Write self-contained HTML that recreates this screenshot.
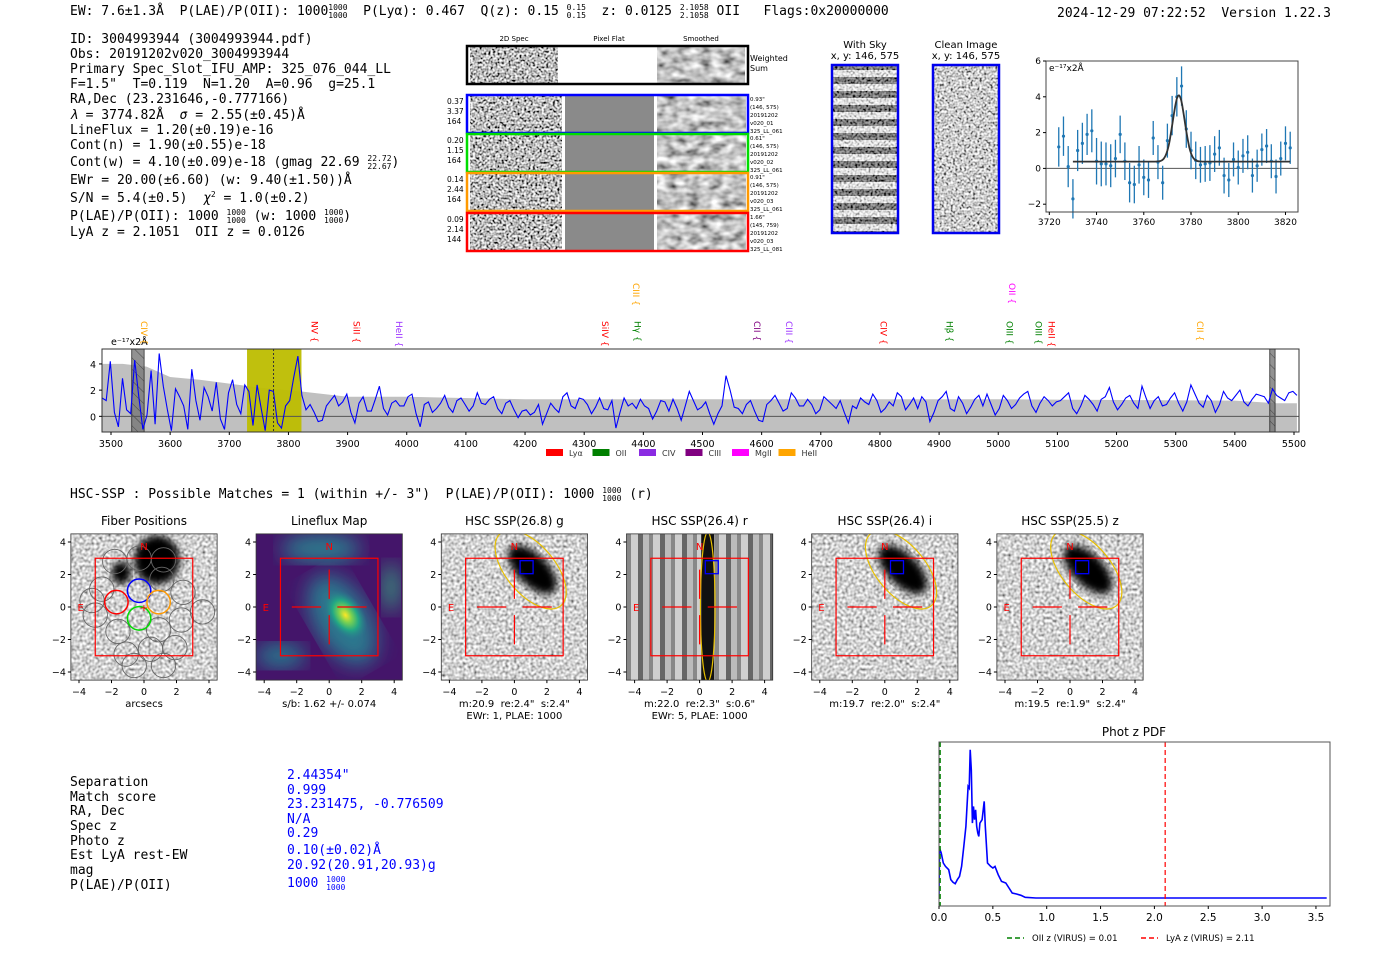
<!DOCTYPE html>
<html><head><meta charset="utf-8">
<style>
html,body{margin:0;padding:0;background:#fff;}
svg{display:block;font-family:"DejaVu Sans","Liberation Sans",sans-serif;}
svg text{white-space:pre;}
.mono{font-family:"DejaVu Sans Mono","Liberation Mono",monospace;}
</style></head>
<body>
<svg id="fig" width="1400" height="953" viewBox="0 0 1400 953" xmlns="http://www.w3.org/2000/svg" xml:space="preserve">
<defs>
<filter id="noise" x="0" y="0" width="1" height="1"><feTurbulence type="fractalNoise" baseFrequency="0.45" numOctaves="1" seed="4"/><feColorMatrix type="saturate" values="0"/><feComponentTransfer><feFuncR type="linear" slope="3.2" intercept="-1.1"/><feFuncG type="linear" slope="3.2" intercept="-1.1"/><feFuncB type="linear" slope="3.2" intercept="-1.1"/><feFuncA type="table" tableValues="1 1"/></feComponentTransfer></filter>
<filter id="smooth" x="0" y="0" width="1" height="1"><feTurbulence type="fractalNoise" baseFrequency="0.09 0.14" numOctaves="2" seed="9"/><feColorMatrix type="saturate" values="0"/><feComponentTransfer><feFuncR type="linear" slope="1.8" intercept="-0.35"/><feFuncG type="linear" slope="1.8" intercept="-0.35"/><feFuncB type="linear" slope="1.8" intercept="-0.35"/><feFuncA type="table" tableValues="1 1"/></feComponentTransfer></filter>
<filter id="fine" x="0" y="0" width="1" height="1"><feTurbulence type="fractalNoise" baseFrequency="0.35" numOctaves="1" seed="2"/><feColorMatrix type="saturate" values="0"/><feComponentTransfer><feFuncR type="linear" slope="2.0" intercept="-0.35"/><feFuncG type="linear" slope="2.0" intercept="-0.35"/><feFuncB type="linear" slope="2.0" intercept="-0.35"/><feFuncA type="table" tableValues="1 1"/></feComponentTransfer></filter>
<filter id="blur3"><feGaussianBlur stdDeviation="4"/></filter>
<filter id="blur8"><feGaussianBlur stdDeviation="10"/></filter>
<pattern id="sky" width="10" height="14" patternUnits="userSpaceOnUse"><rect width="10" height="7" fill="#fff" opacity="0.55"/><rect y="7" width="10" height="7" fill="#000" opacity="0.35"/></pattern>
<pattern id="hatch" width="8" height="8" patternUnits="userSpaceOnUse" patternTransform="rotate(-45)"><line x1="0" y1="0" x2="0" y2="8" stroke="#333" stroke-width="0.8"/></pattern>
<pattern id="vstripes" width="22" height="10" patternUnits="userSpaceOnUse"><rect width="5" height="10" fill="#666"/><rect x="5" width="6" height="10" fill="#bbb"/><rect x="11" width="4" height="10" fill="#888"/><rect x="15" width="7" height="10" fill="#cfcfcf"/></pattern>
<radialGradient id="vir" cx="0.5" cy="0.5" r="0.5"><stop offset="0" stop-color="#fde725"/><stop offset="0.3" stop-color="#7ad151"/><stop offset="0.6" stop-color="#22a884"/><stop offset="1" stop-color="#2a788e" stop-opacity="0"/></radialGradient>
<clipPath id="specclip"><rect x="102" y="349" width="1197" height="83"/></clipPath>
<clipPath id="pdfclip"><rect x="939" y="742" width="391" height="164"/></clipPath>
</defs>

<!-- header -->
<g class="mono" font-size="13" fill="#000">
<text x="70" y="15">EW: 7.6±1.3Å  P(LAE)/P(OII): 1000<tspan font-size="8" dy="-5">1000</tspan><tspan font-size="8" dx="-19.3" dy="8">1000</tspan><tspan dy="-3">  P(Lyα): 0.467  Q(z): 0.15 </tspan><tspan font-size="8" dy="-5">0.15</tspan><tspan font-size="8" dx="-19.3" dy="8">0.15</tspan><tspan dy="-3">  z: 0.0125 </tspan><tspan font-size="8" dy="-5">2.1058</tspan><tspan font-size="8" dx="-28.9" dy="8">2.1058</tspan><tspan dy="-3"> OII   Flags:0x20000000</tspan></text>
<text x="1057" y="17">2024-12-29 07:22:52  Version 1.22.3</text>
</g>
<g class="mono" font-size="13" fill="#000">
<text x="70" y="43">ID: 3004993944 (3004993944.pdf)</text>
<text x="70" y="58">Obs: 20191202v020_3004993944</text>
<text x="70" y="73">Primary Spec_Slot_IFU_AMP: 325_076_044_LL</text>
<text x="70" y="88">F=1.5"  T=0.119  N=1.20  A=0.96  g=25.1</text>
<text x="70" y="103">RA,Dec (23.231646,-0.777166)</text>
<text x="70" y="119"><tspan font-style="italic">λ</tspan> = 3774.82Å  <tspan font-style="italic">σ</tspan> = 2.55(±0.45)Å</text>
<text x="70" y="134">LineFlux = 1.20(±0.19)e-16</text>
<text x="70" y="149">Cont(n) = 1.90(±0.55)e-18</text>
<text x="70" y="166">Cont(w) = 4.10(±0.09)e-18 (gmag 22.69 <tspan font-size="8" dy="-5">22.72</tspan><tspan font-size="8" dx="-24.1" dy="8">22.67</tspan><tspan dy="-3">)</tspan></text>
<text x="70" y="184">EWr = 20.00(±6.60) (w: 9.40(±1.50))Å</text>
<text x="70" y="202">S/N = 5.4(±0.5)  <tspan font-style="italic">χ</tspan><tspan font-size="8" dy="-5">2</tspan><tspan dy="5"> = 1.0(±0.2)</tspan></text>
<text x="70" y="220">P(LAE)/P(OII): 1000 <tspan font-size="8" dy="-5">1000</tspan><tspan font-size="8" dx="-19.3" dy="8">1000</tspan><tspan dy="-3"> (w: 1000 </tspan><tspan font-size="8" dy="-5">1000</tspan><tspan font-size="8" dx="-19.3" dy="8">1000</tspan><tspan dy="-3">)</tspan></text>
<text x="70" y="236">LyA z = 2.1051  OII z = 0.0126</text>
</g>

<!-- 2D spectra -->
<g font-size="7" fill="#000">
<text x="514" y="41" text-anchor="middle">2D Spec</text>
<text x="609" y="41" text-anchor="middle">Pixel Flat</text>
<text x="701" y="41" text-anchor="middle">Smoothed</text>
<rect x="470" y="47" width="88" height="37" filter="url(#noise)"/>
<rect x="657" y="47" width="88" height="37" filter="url(#smooth)"/>
<rect x="467" y="46" width="281" height="38" fill="none" stroke="#000" stroke-width="2.5"/>
<text x="750" y="61" font-size="8">Weighted</text>
<text x="750" y="71" font-size="8">Sum</text>
<g id="fiberrows"></g>
</g>

<!-- sky images -->
<g font-size="10" fill="#000">
<text x="865" y="48" text-anchor="middle">With Sky</text>
<text x="865" y="59" text-anchor="middle">x, y: 146, 575</text>
<rect x="832" y="65" width="66" height="168" filter="url(#noise)"/>
<rect x="832" y="65" width="66" height="168" fill="url(#sky)"/>
<rect x="832" y="65" width="66" height="168" fill="none" stroke="#0000ee" stroke-width="2.5"/>
<text x="966" y="48" text-anchor="middle">Clean Image</text>
<text x="966" y="59" text-anchor="middle">x, y: 146, 575</text>
<rect x="933" y="65" width="66" height="168" filter="url(#noise)" opacity="0.75"/>
<rect x="933" y="65" width="66" height="168" fill="none" stroke="#0000ee" stroke-width="2.5"/>
</g>

<g id="zoomplot"></g>
<g id="specplot"></g>

<text class="mono" x="70" y="498" font-size="13">HSC-SSP : Possible Matches = 1 (within +/- 3")  P(LAE)/P(OII): 1000 <tspan font-size="8" dy="-5">1000</tspan><tspan font-size="8" dx="-19.3" dy="8">1000</tspan><tspan dy="-3"> (r)</tspan></text>

<g id="cutouts"></g>

<g class="mono" font-size="13">
<g fill="#000">
<text x="70" y="786">Separation</text>
<text x="70" y="801">Match score</text>
<text x="70" y="815">RA, Dec</text>
<text x="70" y="830">Spec z</text>
<text x="70" y="845">Photo z</text>
<text x="70" y="859">Est LyA rest-EW</text>
<text x="70" y="874">mag</text>
<text x="70" y="889">P(LAE)/P(OII)</text>
</g>
<g fill="#0000ff">
<text x="287" y="779">2.44354"</text>
<text x="287" y="794">0.999</text>
<text x="287" y="808">23.231475, -0.776509</text>
<text x="287" y="823">N/A</text>
<text x="287" y="837">0.29</text>
<text x="287" y="854">0.10(±0.02)Å</text>
<text x="287" y="869">20.92(20.91,20.93)g</text>
<text x="287" y="887">1000 <tspan font-size="8" dy="-5">1000</tspan><tspan font-size="8" dx="-19.3" dy="8">1000</tspan></text>
</g>
</g>

<g id="pdfplot"></g>
</svg>

<script>
// ---------- data ----------
const fitWave = [3724,3726,3728,3730,3732,3734,3736,3738,3740,3742,3744,3746,3748,3750,3752,3754,3756,3758,3760,3762,3764,3766,3768,3770,3772,3774,3776,3778,3780,3782,3784,3786,3788,3790,3792,3794,3796,3798,3800,3802,3804,3806,3808,3810,3812,3814,3816,3818,3820,3822];
const fitFlux = [1.2,1.8,0.1,-1.7,1.0,1.4,1.9,2.1,0.4,0.25,0.25,0.15,0.55,1.9,0.4,-0.8,-0.9,0.2,-0.5,-0.65,1.7,0.35,-0.8,1.55,2.95,4.0,4.6,2.2,1.0,0.45,0.2,0.25,0.3,0.8,1.15,-0.4,-0.65,0.5,0.05,0.7,0.9,-0.4,0.15,1.05,1.25,0.4,-0.45,0.55,1.4,1.15];
const fitErr = [1.1,1.1,1.15,1.1,1.15,1.15,1.15,1.2,1.3,1.25,1.2,1.2,1.05,1.05,1.05,1.1,1.05,1.05,1.0,1.0,0.95,0.95,0.95,0.95,1.1,1.1,1.1,1.05,1.05,1.05,1.0,1.0,1.0,1.0,1.0,1.0,0.95,0.95,0.95,0.95,0.95,0.95,0.9,0.9,0.95,0.95,0.95,0.95,0.95,0.9];
const fitParams = {center:3774.82, sigma:2.55, amp:3.7, cont:0.38, start:3730, end:3822};
const fitXTicks = [3720,3740,3760,3780,3800,3820];
const fitYTicks = [-2,0,2,4,6];

const specFlux = [1.4,1.2,4.2,0.3,-0.8,2.9,0.5,0.2,4.3,1.5,-1.0,0.1,3.5,-0.6,4.8,2.3,0.5,-1.1,2.1,1.5,0.8,-1.0,3.6,1.2,-0.3,2.2,1.5,0.4,2.6,-0.2,-1.0,1.8,2.8,0.9,0.2,2.4,1.9,-0.7,
2.4,0.6,-1.1,2.0,1.9,-0.5,-0.9,0.8,1.2,3.0,4.6,1.6,0.5,0.9,0.3,-0.4,-0.3,0.8,1.2,1.6,0.8,1.1,1.7,0.3,-0.5,1.0,1.5,0.4,0.4,1.3,2.3,0.6,0.1,1.0,1.2,0.8,0.8,1.5,1.7,0.2,-0.8,0.9,1.1,0.3,0.6,1.0,1.6,0.7,0.3,1.2,1.4,0.9,0.4,0.8,1.8,1.0,0.9,1.3,1.5,0.6,0.2,1.0,1.2,0.5,-0.1,0.4,0.5,0.1,0.3,0.9,-0.6,0.2,1.0,0.6,0.3,1.5,1.8,0.8,0.6,1.4,1.3,0.9,0.2,0.7,1.4,0.6,0.5,1.2,-0.9,0.3,1.4,0.8,1.0,0.6,1.3,0.8,0.6,-0.2,0.4,1.2,1.1,0.4,1.3,0.6,-0.3,0.8,1.9,1.2,0.5,0.7,1.1,0.2,-0.6,0.2,0.8,3.1,2.0,0.7,0.6,0.2,0.9,1.2,0.4,-0.3,-0.4,0.9,1.2,1.6,1.0,0.4,0.6,1.8,1.4,0.8,0.8,1.3,0.9,0.2,0.5,1.5,1.2,0.9,0.6,1.2,0.3,-0.5,0.8,0.6,1.4,1.1,0.9,1.7,1.2,0.3,0.6,1.1,0.8,1.8,1.5,0.5,0.9,1.4,0.6,1.5,1.1,-0.4,0.3,1.2,1.5,1.9,0.6,0.4,1.5,1.0,0.2,0.7,1.3,1.6,0.8,1.7,0.9,0.1,0.6,1.6,1.2,0.6,0.9,1.4,1.7,1.9,0.8,0.3,1.0,1.5,1.2,0.8,1.1,1.2,1.5,1.8,0.6,0.2,0.8,1.6,1.3,0.9,0.4,1.3,1.5,2.2,1.1,0.5,0.9,1.4,1.6,1.0,0.6,2.3,1.4,0.6,1.2,1.5,0.8,0.9,1.4,1.8,1.0,0.4,1.1,2.4,1.7,1.0,0.7,1.6,1.2,0.3,0.9,1.9,1.4,1.2,1.6,2.0,1.1,0.8,1.3,1.7,1.6,1.5,1.0,2.1,1.6,1.4,1.2,1.8,1.9,1.6];
const specRange = [3485, 5505];
const errWave = [3485,3520,3560,3600,3650,3700,3750,3820,3900,4000,4200,4500,4700,5000,5400,5470,5505];
const errTop  = [4.0,4.0,3.8,3.0,2.8,2.5,2.2,1.9,1.5,1.5,1.3,1.3,1.3,1.3,1.2,1.0,1.0];
const specXTicks = [3500,3600,3700,3800,3900,4000,4100,4200,4300,4400,4500,4600,4700,4800,4900,5000,5100,5200,5300,5400,5500];
const specYTicks = [0,2,4];
const lineNames  = ['CIV','NV','SiII','HeII','SiIV','CIII','Hγ','CII','CIII','CIV','Hβ','OII','OIII','OIII','HeII','CII'];
const lineWaves  = [3555,3843,3914,3986,4334,4387,4389,4591,4645,4805,4917,5022,5018,5067,5089,5340];
const lineColors = ['#ffa500','#ff0000','#ff0000','#9b30ff','#ff0000','#ffa500','#008000','#800080','#9b30ff','#ff0000','#008000','#ff00ff','#008000','#008000','#ff0000','#ffa500'];
const lineHigh   = [0,0,0,0,0,1,0,0,0,0,0,1,0,0,0,0];
const legendNames = ['Lyα','OII','CIV','CIII','MgII','HeII'];
const legendColors = ['#ff0000','#008000','#8a2be2','#800080','#ff00ff','#ffa500'];

const pdfZ = [0.0,0.005,0.02,0.04,0.06,0.09,0.11,0.13,0.15,0.17,0.19,0.21,0.23,0.25,0.27,0.28,0.29,0.30,0.31,0.32,0.33,0.34,0.35,0.36,0.37,0.38,0.40,0.42,0.43,0.45,0.48,0.50,0.52,0.55,0.58,0.62,0.65,0.68,0.72,0.76,0.80,0.90,3.60];
const pdfVal = [0,1.50,1.35,1.05,0.95,0.85,0.55,0.47,0.43,0.55,0.65,0.95,1.55,2.15,3.35,3.30,4.45,3.85,2.25,2.75,2.35,2.65,2.15,1.95,1.85,2.25,2.35,2.90,2.15,1.05,0.95,0.90,0.95,0.70,0.50,0.45,0.30,0.15,0.12,0.08,0.02,0,0];
const pdfXTicks = [0.0,0.5,1.0,1.5,2.0,2.5,3.0,3.5];
const pdfOIIz = 0.01, pdfLyAz = 2.1;

const NS='http://www.w3.org/2000/svg';
function mk(tag, attrs, parent, text){const e=document.createElementNS(NS,tag);for(const k in attrs)e.setAttribute(k,attrs[k]);if(text!==undefined)e.textContent=text;parent.appendChild(e);return e;}

// ---------- fiber rows ----------
(function(){
  const g=document.getElementById('fiberrows');
  const cols=['#0000ff','#00dd00','#ff9900','#ff0000'];
  const rowTop=[95,134,173,213];
  const lab=[['0.37','3.37','164'],['0.20','1.15','164'],['0.14','2.44','164'],['0.09','2.14','144']];
  const rlab=[['0.93"','(146, 575)','20191202','v020_01','325_LL_061'],['0.61"','(146, 575)','20191202','v020_02','325_LL_061'],['0.91"','(146, 575)','20191202','v020_03','325_LL_061'],['1.66"','(145, 759)','20191202','v020_03','325_LL_081']];
  for(let i=0;i<4;i++){
    const y=rowTop[i];
    let r=mk('rect',{x:470,y:y,width:92,height:38,filter:'url(#noise)'},g);
    
    
    r=mk('rect',{x:565,y:y,width:89,height:38,fill:'#8a8a8a'},g);
    
    
    r=mk('rect',{x:657,y:y,width:89,height:38,filter:'url(#smooth)'},g);
    
    
    r=mk('rect',{x:467,y:y,width:281,height:38,fill:'none',stroke:cols[i],'stroke-width':2.5},g);
    
    
    for(let j=0;j<3;j++){
      const t=mk('text',{x:447,y:y+9+j*10,'font-size':7.5},g,lab[i][j]);
      
      
    }
    for(let j=0;j<5;j++){
      const t=mk('text',{x:750,y:y+6+j*8,'font-size':5.5},g,rlab[i][j]);
      
      
    }
  }
})();

// ---------- line fit plot ----------
(function(){
  const g=document.getElementById('zoomplot');
  const L=1046,R=1298,T=61,B=212;
  const x=w=>L+(w-3718.6)/(3825.3-3718.6)*(R-L);
  const y=v=>T+(6-v)*17.9;
  let e=mk('line',{x1:L,x2:R,y1:y(0),y2:y(0),stroke:'#555','stroke-width':1},g);
  
  
  for(let i=0;i<fitWave.length;i++){
    const b=mk('line',{x1:x(fitWave[i]),x2:x(fitWave[i]),y1:y(fitFlux[i]-fitErr[i]),y2:y(fitFlux[i]+fitErr[i]),stroke:'#1f77b4','stroke-width':1.3},g);
    
    
    const p=mk('circle',{cx:x(fitWave[i]),cy:y(fitFlux[i]),r:1.6,fill:'#1f77b4'},g);
    
    
  }
  let d='';
  for(let w=fitParams.start;w<=fitParams.end;w+=0.25){
    const v=fitParams.cont+fitParams.amp*Math.exp(-0.5*Math.pow((w-fitParams.center)/fitParams.sigma,2));
    d+=(d?'L':'M')+x(w).toFixed(1)+','+y(v).toFixed(1);
  }
  e=mk('path',{d:d,fill:'none',stroke:'#333','stroke-width':1.8},g);
  
  
  e=mk('rect',{x:L,y:T,width:R-L,height:B-T,fill:'none',stroke:'#444','stroke-width':1},g);
  
  
  fitXTicks.forEach(t=>{
    const l=mk('line',{x1:x(t),x2:x(t),y1:B,y2:B+3,stroke:'#000'},g);
    
    
    const s=mk('text',{x:x(t),y:B+13,'font-size':9,'text-anchor':'middle'},g,t);
    
    
  });
  fitYTicks.forEach(t=>{
    const l=mk('line',{x1:L-3,x2:L,y1:y(t),y2:y(t),stroke:'#000'},g);
    
    
    const s=mk('text',{x:L-5,y:y(t)+3,'font-size':9,'text-anchor':'end'},g,t<0?'−'+(-t):t);
    
    
  });
  const u=mk('text',{x:L+3,y:T+10,'font-size':9},g,'e⁻¹⁷x2Å');
  
  
})();

// ---------- full spectrum ----------
(function(){
  const g=document.getElementById('specplot');
  const L=102,R=1299,T=349,B=432;
  const x=w=>L+(w-3484.8)*0.5915;
  const y=v=>T+(5.14-v)*13.1;
  let d='M'+x(errWave[0])+','+B;
  errWave.forEach((w,i)=>{d+='L'+x(w).toFixed(1)+','+y(errTop[i]).toFixed(1);});
  d+='L'+x(errWave[errWave.length-1])+','+B+'Z';
  let e=mk('path',{d:d,fill:'#c0c0c0','clip-path':'url(#specclip)'},g);
  
  
  e=mk('rect',{x:x(3730),y:T,width:x(3822)-x(3730),height:B-T,fill:'#bdbd00',opacity:0.95},g);
  
  
  [[3535,3556],[5459,5468]].forEach(r=>{
    const m=mk('rect',{x:x(r[0]),y:T,width:x(r[1])-x(r[0]),height:B-T,fill:'#777',opacity:0.8,stroke:'#222'},g);
    
    
    const h=mk('rect',{x:x(r[0]),y:T,width:x(r[1])-x(r[0]),height:B-T,fill:'url(#hatch)'},g);
    
    
  });
  e=mk('line',{x1:L,x2:R,y1:y(0),y2:y(0),stroke:'#555','stroke-width':1},g);
  
  
  const n=specFlux.length, step=(specRange[1]-specRange[0])/(n-1);
  let p='';
  specFlux.forEach((v,i)=>{p+=(p?'L':'M')+x(specRange[0]+i*step).toFixed(1)+','+y(v).toFixed(1);});
  e=mk('path',{d:p,fill:'none',stroke:'#0000ff','stroke-width':1.1,'clip-path':'url(#specclip)'},g);
  
  
  e=mk('line',{x1:x(3774.8),x2:x(3774.8),y1:T,y2:B,stroke:'#333','stroke-dasharray':'2,2'},g);
  
  
  e=mk('rect',{x:L,y:T,width:R-L,height:B-T,fill:'none',stroke:'#333','stroke-width':1},g);
  
  
  specXTicks.forEach(t=>{
    const l=mk('line',{x1:x(t),x2:x(t),y1:B,y2:B+3,stroke:'#000'},g);
    
    
    const s=mk('text',{x:x(t),y:B+15,'font-size':9.5,'text-anchor':'middle'},g,t);
    
    
  });
  specYTicks.forEach(t=>{
    const l=mk('line',{x1:L-3,x2:L,y1:y(t),y2:y(t),stroke:'#000'},g);
    
    
    const s=mk('text',{x:L-6,y:y(t)+4,'font-size':9.5,'text-anchor':'end'},g,t);
    
    
  });
  const u=mk('text',{x:111,y:345,'font-size':9.5},g,'e⁻¹⁷x2Å');
  
  
  lineNames.forEach((nm,i)=>{
    const xx=x(lineWaves[i]);
    const yy=lineHigh[i]?283:321;
    const t=mk('text',{x:xx,y:yy,'font-size':9,fill:lineColors[i],transform:'rotate(90 '+xx+' '+yy+')','dominant-baseline':'middle'},g,nm+' {');
    
    
  });
  legendNames.forEach((nm,i)=>{
    const lx=546+i*46.5;
    const r=mk('rect',{x:lx,y:449,width:17,height:7,fill:legendColors[i]},g);
    
    
    const t=mk('text',{x:lx+23,y:456,'font-size':8,fill:'#333'},g,nm);
    
    
  });
})();

// ---------- cutouts ----------
(function(){
  const g=document.getElementById('cutouts');
  const titles=['Fiber Positions','Lineflux Map','HSC SSP(26.8) g','HSC SSP(26.4) r','HSC SSP(26.4) i','HSC SSP(25.5) z'];
  const caps=[['arcsecs'],['s/b: 1.62 +/- 0.074'],['m:20.9  re:2.4"  s:2.4"','EWr: 1, PLAE: 1000'],['m:22.0  re:2.3"  s:0.6"','EWr: 5, PLAE: 1000'],['m:19.7  re:2.0"  s:2.4"'],['m:19.5  re:1.9"  s:2.4"']];
  const s=16.25, cy=607;
  for(let i=0;i<6;i++){
    const cx=144+185.2*i;
    const X=a=>cx+a*s, Y=b=>cy-b*s;
    const pg=mk('g',{},g);
    
    
    const cp='cp'+i;
    const c=mk('clipPath',{id:cp},pg); mk('rect',{x:X(-4.5),y:Y(4.5),width:9*s,height:9*s},c);
    const ig=mk('g',{'clip-path':'url(#'+cp+')'},pg);
    if(i===1){
      mk('rect',{x:X(-4.5),y:Y(4.5),width:9*s,height:9*s,fill:'#44156a'},ig);
      mk('ellipse',{cx:X(-0.5),cy:Y(3.6),rx:40,ry:14,fill:'#2c7f8e',filter:'url(#blur8)'},ig);
      mk('ellipse',{cx:X(0.8),cy:Y(-0.8),rx:28,ry:50,fill:'#2a788e',filter:'url(#blur8)',transform:'rotate(-30 '+X(0.8)+' '+Y(-0.8)+')'},ig);
      mk('ellipse',{cx:X(-3),cy:Y(-3),rx:25,ry:12,fill:'#287d8e',filter:'url(#blur8)'},ig);
      mk('ellipse',{cx:X(3.8),cy:Y(1.2),rx:8,ry:25,fill:'#35a07f',filter:'url(#blur8)'},ig);
      mk('ellipse',{cx:X(1.0),cy:Y(-0.5),rx:28,ry:18,fill:'url(#vir)',transform:'rotate(55 '+X(1.0)+' '+Y(-0.5)+')'},ig);
    } else if(i===3){
      mk('rect',{x:X(-4.5),y:Y(4.5),width:9*s,height:9*s,fill:'url(#vstripes)'},ig);
      mk('rect',{x:X(0.1),y:Y(4.5),width:0.8*s,height:9*s,fill:'#111'},ig);
      mk('ellipse',{cx:X(0.5),cy:cy,rx:0.45*s,ry:4.6*s,fill:'none',stroke:'#e8c000','stroke-width':1.2},ig);
    } else {
      mk('rect',{x:X(-4.5),y:Y(4.5),width:9*s,height:9*s,filter:'url(#fine)'},ig);
      if(i===0){
        mk('ellipse',{cx:X(0.8),cy:Y(2.9),rx:1.4*s,ry:1.5*s,fill:'#000',filter:'url(#blur3)'},ig);
        mk('ellipse',{cx:X(-1.4),cy:Y(2.1),rx:0.6*s,ry:0.7*s,fill:'#000',filter:'url(#blur3)'},ig);
      } else {
        mk('ellipse',{cx:X(1.1),cy:Y(2.3),rx:1.9*s,ry:0.95*s,fill:'#000',filter:'url(#blur3)',transform:'rotate(45 '+X(1.1)+' '+Y(2.3)+')'},ig);
        mk('ellipse',{cx:X(1.0),cy:Y(2.3),rx:2.9*s,ry:1.5*s,fill:'none',stroke:'#e8c000','stroke-width':1.2,transform:'rotate(50 '+X(1.0)+' '+Y(2.3)+')'},ig);
      }
    }
    if(i===0){
      const fib=[[-1.8,2.8],[-0.3,3.0],[1.2,2.9],[-2.6,1.1],[1.1,1.7],[2.4,0.9],[-3.0,-0.5],[-1.6,-1.5],[0.9,-1.4],[2.3,-0.8],[3.6,-0.3],[-1.1,-2.9],[0.4,-2.6],[1.9,-2.5],[-3.2,0.4],[-0.6,-3.6],[1.2,-3.6]];
      fib.forEach(f=>mk('circle',{cx:X(f[0]),cy:Y(f[1]),r:0.75*s,fill:'none',stroke:'#666','stroke-width':0.9},ig));
      [['#0000ff',-0.3,1.0],['#ff0000',-1.7,0.3],['#ff9900',0.9,0.3],['#00dd00',-0.3,-0.7]].forEach(f=>mk('circle',{cx:X(f[1]),cy:Y(f[2]),r:0.72*s,fill:'none',stroke:f[0],'stroke-width':1.5},ig));
      mk('text',{x:X(0),y:Y(0)+4,'font-size':10,fill:'#f00','text-anchor':'middle'},ig,'+');
    }
    const box=mk('rect',{x:X(-3),y:Y(3),width:6*s,height:6*s,fill:'none',stroke:'#ff0000','stroke-width':1.2},pg);
    
    
    if(i>=1){
      [[-2.3,0,-0.5,0],[0.5,0,2.3,0],[0,0.5,0,2.3],[0,-0.5,0,-2.3]].forEach(l=>mk('line',{x1:X(l[0]),y1:Y(l[1]),x2:X(l[2]),y2:Y(l[3]),stroke:'#ff0000','stroke-width':1.2},pg));
    }
    if(i>=2){
      const sq=mk('rect',{x:X(0.35),y:Y(2.85),width:0.8*s,height:0.8*s,fill:'none',stroke:'#0000ff','stroke-width':1.3},pg);
      
      
    }
    mk('text',{x:X(0),y:Y(3.5),'font-size':10,fill:'#f00','text-anchor':'middle'},pg,'N');
    mk('text',{x:X(-3.9),y:Y(0)+4,'font-size':10,fill:'#f00','text-anchor':'middle'},pg,'E');
    const fr=mk('rect',{x:X(-4.5),y:Y(4.5),width:9*s,height:9*s,fill:'none',stroke:'#333','stroke-width':0.8},pg);
    
    
    const tt=mk('text',{x:cx,y:525,'font-size':12,'text-anchor':'middle'},pg,titles[i]);
    
    
    [-4,-2,0,2,4].forEach(t=>{
      mk('line',{x1:X(t),x2:X(t),y1:Y(-4.5),y2:Y(-4.5)+3,stroke:'#000'},pg);
      mk('text',{x:X(t),y:Y(-4.5)+15,'font-size':9.5,'text-anchor':'middle'},pg,t<0?'−'+(-t):t);
      mk('line',{x1:X(-4.5)-3,x2:X(-4.5),y1:Y(t),y2:Y(t),stroke:'#000'},pg);
      mk('text',{x:X(-4.5)-5,y:Y(t)+3.5,'font-size':9.5,'text-anchor':'end'},pg,t<0?'−'+(-t):t);
    });
    caps[i].forEach((cpt,j)=>{
      const ct=mk('text',{x:cx,y:707+j*12,'font-size':10,'text-anchor':'middle'},pg,cpt);
      
      
    });
  }
})();

// ---------- phot z pdf ----------
(function(){
  const g=document.getElementById('pdfplot');
  const L=939,R=1330,T=742,B=906;
  const x=z=>L+z*107.7;
  const y=v=>898-v*33.3;
  let e=mk('text',{x:1134,y:736,'font-size':12,'text-anchor':'middle'},g,'Phot z PDF');
  
  
  let d='';
  pdfZ.forEach((z,i)=>{d+=(d?'L':'M')+x(z).toFixed(1)+','+y(pdfVal[i]).toFixed(1);});
  e=mk('path',{d:d,fill:'none',stroke:'#0000ff','stroke-width':1.6,'clip-path':'url(#pdfclip)'},g);
  
  
  e=mk('line',{x1:x(pdfOIIz),x2:x(pdfOIIz),y1:T,y2:B,stroke:'#008000','stroke-width':1.5,'stroke-dasharray':'5,3'},g);
  
  
  e=mk('line',{x1:x(pdfLyAz),x2:x(pdfLyAz),y1:T,y2:B,stroke:'#ff0000','stroke-width':1.2,'stroke-dasharray':'5,3'},g);
  
  
  e=mk('rect',{x:L,y:T,width:R-L,height:B-T,fill:'none',stroke:'#555','stroke-width':1},g);
  
  
  pdfXTicks.forEach(t=>{
    const l=mk('line',{x1:x(t),x2:x(t),y1:B,y2:B+3,stroke:'#000'},g);
    
    
    const s=mk('text',{x:x(t),y:B+15,'font-size':10.5,'text-anchor':'middle'},g,t.toFixed(1));
    
    
  });
  e=mk('line',{x1:1007,x2:1024,y1:938,y2:938,stroke:'#008000','stroke-width':1.5,'stroke-dasharray':'5,3'},g);
  
  
  e=mk('text',{x:1032,y:941,'font-size':8.5},g,'OII z (VIRUS) = 0.01');
  
  
  e=mk('line',{x1:1141,x2:1158,y1:938,y2:938,stroke:'#ff0000','stroke-width':1.5,'stroke-dasharray':'5,3'},g);
  
  
  e=mk('text',{x:1166,y:941,'font-size':8.5},g,'LyA z (VIRUS) = 2.11');
  
  
})();
</script>
</body></html>
